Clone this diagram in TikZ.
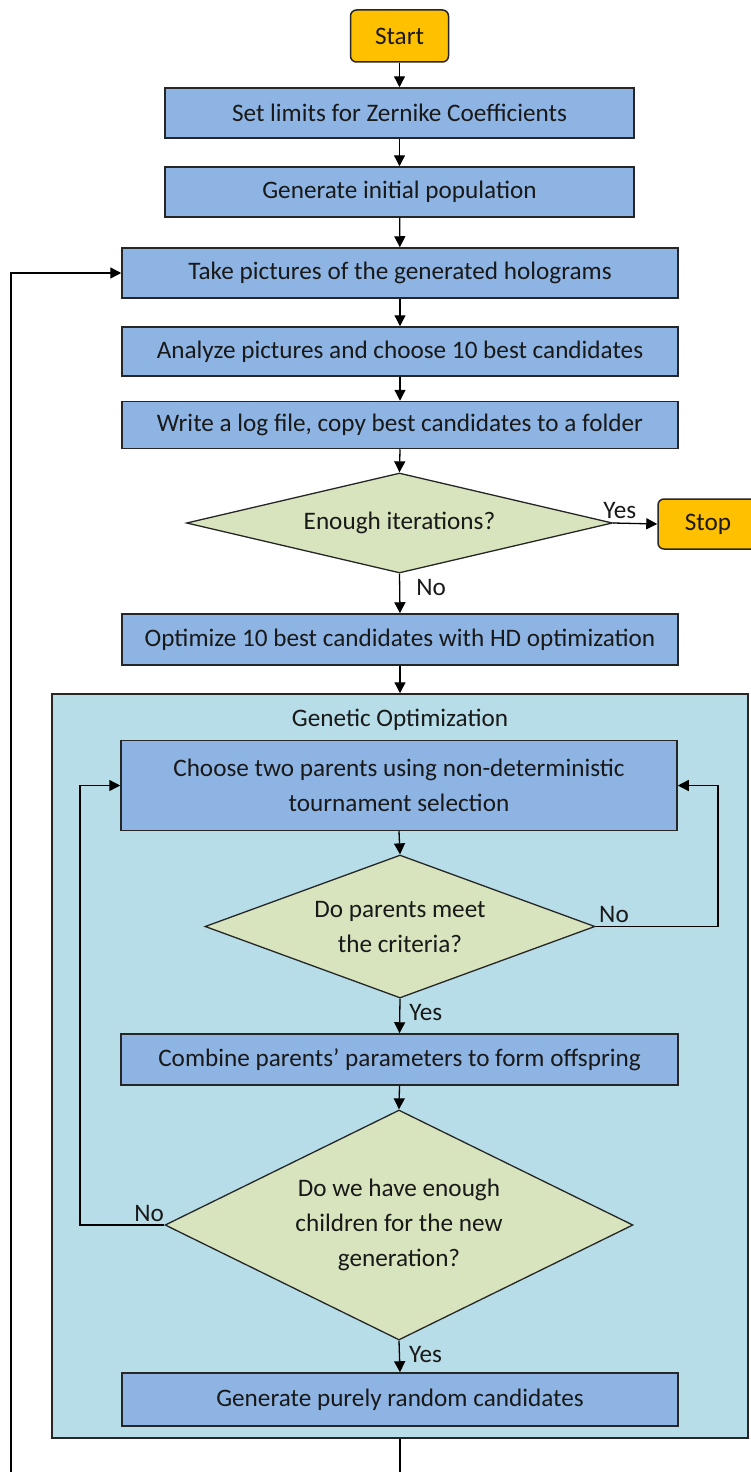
\documentclass[tikz,border=0pt]{standalone}
\usepackage{fontspec}
\setmainfont{Carlito}
\usetikzlibrary{shapes.geometric,arrows.meta}
\definecolor{boxblue}{HTML}{8EB4E3}
\definecolor{genbg}{HTML}{B7DDE8}
\definecolor{diagreen}{HTML}{D7E4BD}
\definecolor{termorange}{HTML}{FFC000}
\definecolor{edge}{HTML}{262626}
\tikzset{
  every node/.style={font=\fontsize{25.2}{35}\selectfont, text=black!90},
  procbox/.style={draw=edge, line width=1.5pt, fill=boxblue, rectangle, inner sep=0pt, align=center},
  termbox/.style={draw=edge, line width=1.5pt, fill=termorange, rectangle, rounded corners=6pt, inner sep=0pt},
  decbox/.style={draw=edge, line width=1.3pt, fill=diagreen, diamond, inner sep=0pt, align=center},
  groupbox/.style={draw=edge, line width=1.5pt, fill=genbg, rectangle, inner sep=0pt},
  conn/.style={draw=black, line width=1.3pt, -{Triangle[length=11pt,width=11pt]}},
  plainconn/.style={draw=black, line width=1.3pt},
  lbl/.style={inner sep=0pt}
}
\begin{document}
\begin{tikzpicture}[x=1pt,y=-1pt]
\useasboundingbox (0,0) rectangle (751,1472);
\clip (0,0) rectangle (751,1472);

\node[groupbox, minimum width=696pt, minimum height=744pt] (gen) at (400,1066) {};
\node[lbl] (gentitle) at (400,720) {Genetic Optimization};

\node[termbox, minimum width=98pt, minimum height=52pt] (start) at (399.5,36) {Start};
\node[procbox, minimum width=469pt, minimum height=50pt] (b1) at (399.5,113) {Set limits for Zernike Coefficients};
\node[procbox, minimum width=469pt, minimum height=50pt] (b2) at (399.5,192) {Generate initial population};
\node[procbox, minimum width=556pt, minimum height=50pt] (b3) at (400,273) {Take pictures of the generated holograms};
\node[procbox, minimum width=556pt, minimum height=49pt] (b4) at (400,351.5) {Analyze pictures and choose 10 best candidates};
\node[procbox, minimum width=556pt, minimum height=47pt] (b5) at (400,425) {Write a log file, copy best candidates to a folder};
\node[decbox, minimum width=426pt, minimum height=100pt, aspect=4.26] (d1) at (399.5,523) {Enough iterations?};
\node[termbox, minimum width=100pt, minimum height=50pt] (stop) at (708,524) {Stop};
\node[procbox, minimum width=556pt, minimum height=51pt] (b6) at (400,639.5) {Optimize 10 best candidates with HD optimization};

\node[procbox, minimum width=556pt, minimum height=90pt] (b7) at (399,785.5) {Choose two parents using non-deterministic\\tournament selection};
\node[decbox, minimum width=390pt, minimum height=143pt, aspect=2.73] (d2) at (400,926.5) {Do parents meet\\the criteria?};
\node[procbox, minimum width=557pt, minimum height=51pt] (b8) at (399.5,1059.5) {Combine parents' parameters to form offspring};
\node[decbox, minimum width=468pt, minimum height=230pt, aspect=2.03] (d3) at (399,1225) {Do we have enough\\children for the new\\generation?};
\node[procbox, minimum width=556pt, minimum height=53pt] (b9) at (400,1399.5) {Generate purely random candidates};

\coordinate (genout) at (400,1480);
\coordinate (loopbot) at (11,1480);
\coordinate (loopcorner) at (11,273);

% main chain
\draw[conn] (start) -- (b1);
\draw[conn] (b1) -- (b2);
\draw[conn] (b2) -- (b3);
\draw[conn] (b3) -- (b4);
\draw[conn] (b4) -- (b5);
\draw[conn] (b5.south) -- (d1.north);
\draw[conn] (d1.east) -- node[lbl, above, pos=0.15, yshift=4pt] {Yes} (stop.west);
\draw[conn] (d1.south) -- node[lbl, right, pos=0.35, xshift=16pt] {No} (b6.north);
\draw[conn] (b6.south) -- (b6.south |- gen.north);

% genetic
\draw[conn] (b7.south) -- (d2.north);
\draw[conn] (d2.south) -- node[lbl, right, pos=0.4, xshift=9pt] {Yes} (b8.north);
\draw[conn] (b8.south) -- (d3.north);
\draw[conn] (d3.south) -- node[lbl, right, pos=0.45, xshift=9pt] {Yes} (b9.north);
\draw[conn] (d2.east) -- node[lbl, above, pos=0.15, yshift=3pt] {No} (718,926.5) |- (b7.east);
\draw[conn] (d3.west) -- node[lbl, above, pos=0.18, yshift=3pt] {No} (80,1225) |- (b7.west);

% outer loop
\draw[plainconn] (gen.south -| genout) -- (genout);
\draw[conn] (loopbot) -- (loopcorner) -- (b3.west);
\end{tikzpicture}
\end{document}
